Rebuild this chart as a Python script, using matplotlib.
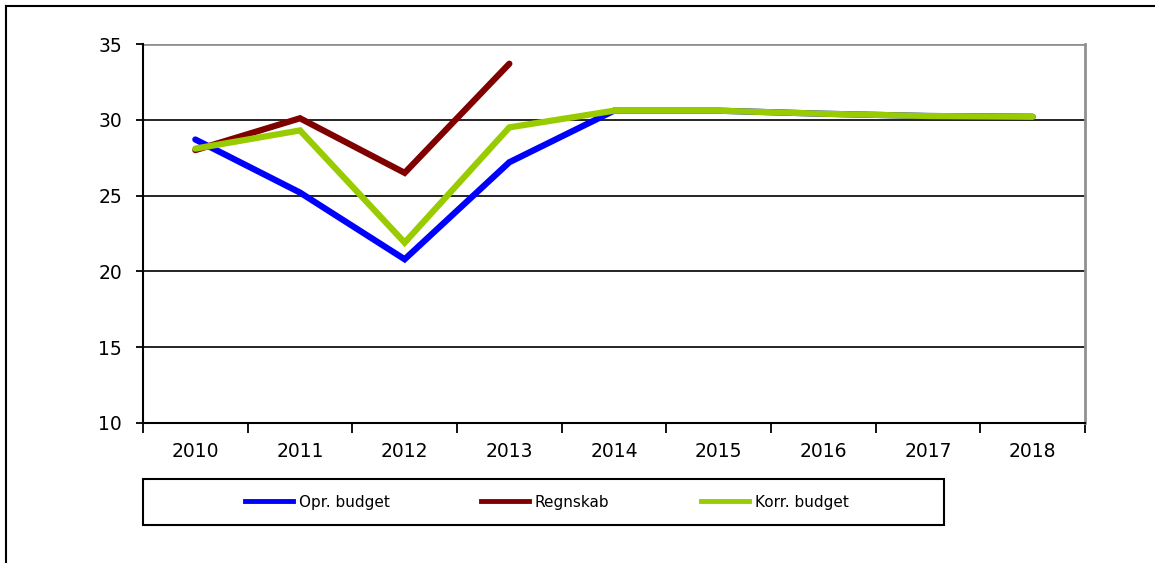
import numpy as np
from matplotlib import pyplot as plt
from matplotlib.patches import Rectangle
from matplotlib.lines import Line2D

years = ['2010', '2011', '2012', '2013', '2014', '2015', '2016', '2017', '2018']
opr_budget = [28.7, 25.2, 20.8, 27.2, 30.6, 30.6, 30.4, 30.25, 30.2]
regnskab = [28.0, 30.1, 26.5, 33.7, np.nan, np.nan, np.nan, np.nan, np.nan]
korr_budget = [28.1, 29.3, 21.9, 29.5, 30.6, 30.6, 30.4, 30.25, 30.2]
series_names = ['Opr. budget', 'Regnskab', 'Korr. budget']
series_colors = ['#0000ff', '#800000', '#99cc00']
y_ticks = [10, 15, 20, 25, 30, 35]

plt.rcParams['font.family'] = 'DejaVu Sans'

fig = plt.figure(figsize=(11.55, 5.63), dpi=100)
ax = fig.add_axes([143 / 1155, 1 - 423 / 563, 942 / 1155, 379 / 563])

x = np.arange(len(years))
for vals, col in zip([opr_budget, regnskab, korr_budget], series_colors):
    ax.plot(x, vals, color=col, lw=4.5, solid_capstyle='round', solid_joinstyle='miter', zorder=3)

ax.set_xlim(-0.5, len(years) - 0.5)
ax.set_ylim(10, 35)
ax.set_yticks(y_ticks)
ax.set_yticklabels([str(v) for v in y_ticks])
for v in y_ticks[1:-1]:
    ax.axhline(v, color='black', lw=1.2, zorder=1)
ax.axhline(35, color='#909090', lw=2, zorder=1)

# category boundaries as major ticks, labels at centres
ax.set_xticks(np.arange(-0.5, len(years), 1.0))
ax.set_xticklabels([])
ax.set_xticks(x, minor=True)
ax.set_xticklabels(years, minor=True)
ax.tick_params(axis='x', which='major', length=7, width=1.3, direction='out')
ax.tick_params(axis='x', which='minor', length=0, pad=14, labelsize=13.5)
ax.tick_params(axis='y', length=5, width=1.3, pad=10, labelsize=13.5)

for s in ['left', 'bottom']:
    ax.spines[s].set_linewidth(1.5)
    ax.spines[s].set_color('black')
ax.spines['top'].set_visible(False)
ax.spines['right'].set_color('#909090')
ax.spines['right'].set_linewidth(2)

# legend box
fig.patches.append(Rectangle((143 / 1155, 1 - 525 / 563), 801 / 1155, 46 / 563,
                             transform=fig.transFigure, fill=False, ec='black', lw=1.5))
handles = [Line2D([], [], color=c, lw=3.5) for c in series_colors]
fig.legend(handles, series_names, loc='center', ncol=3,
           bbox_to_anchor=(547 / 1155, 1 - 502 / 563), frameon=False,
           fontsize=11, handlelength=3.1, handletextpad=0.4, columnspacing=6)

# outer frame (left and top edges visible)
fig.add_artist(Line2D([6 / 1155, 6 / 1155], [0, 1 - 6 / 563], transform=fig.transFigure,
                      color='black', lw=1.5))
fig.add_artist(Line2D([6 / 1155, 1], [1 - 6 / 563, 1 - 6 / 563], transform=fig.transFigure,
                      color='black', lw=1.5))

fig.savefig('out.png', dpi=100)
